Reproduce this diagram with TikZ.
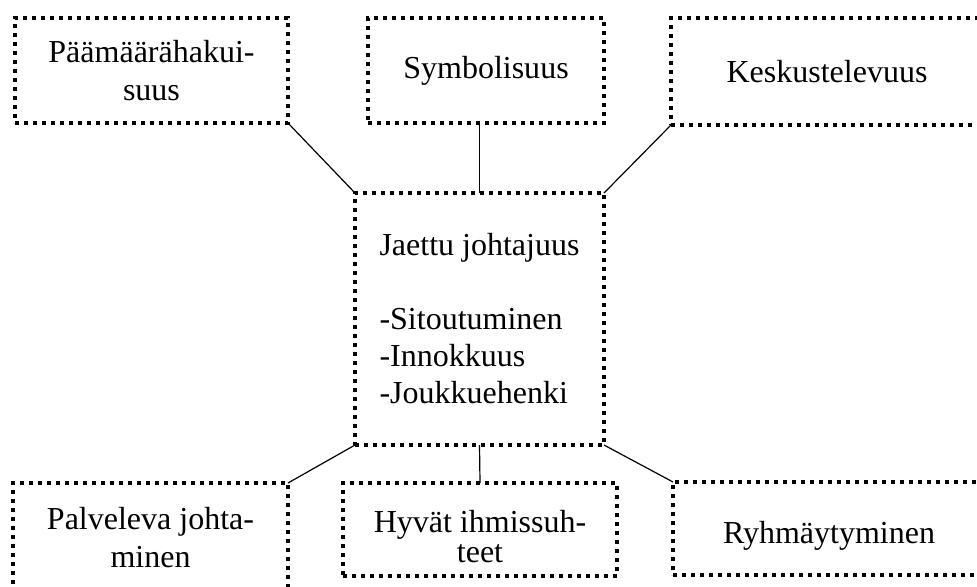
\documentclass[tikz,border=0pt]{standalone}
\usepackage{fontspec}
\setmainfont{Liberation Serif}
\begin{document}
\begin{tikzpicture}[x=0.5pt,y=-0.5pt,
  dotbox/.style={draw, line width=2pt, dash pattern=on 2pt off 2.5pt,
    rectangle, inner sep=0pt, outer sep=0pt, align=center,
    font=\fontsize{16}{19}\selectfont},
  conn/.style={line width=0.6pt}]
\useasboundingbox (0,0) rectangle (977,586);
\begin{scope}
\clip (0,0) rectangle (977,586);
\node[dotbox, minimum width=136.5pt, minimum height=52.5pt] (pm) at (151.5,70.5) {Päämäärähakui-\\suus};
\node[dotbox, minimum width=118pt, minimum height=52.5pt] (sy) at (486,70.5) {Symbolisuus};
\node[dotbox, minimum width=156pt, minimum height=53.5pt] (ke) at (827,71.5) {Keskustelevuus};
\node[dotbox, minimum width=124.5pt, minimum height=126pt, align=left, font=\fontsize{16}{18.5}\selectfont] (jj) at (479.5,319) {Jaettu johtajuus\\[18.5pt]-Sitoutuminen\\-Innokkuus\\-Joukkuehenki};
\node[dotbox, minimum width=137.5pt, minimum height=54.5pt] (pa) at (150.5,537.5) {Palveleva johta-\\minen};
\node[dotbox, minimum width=137pt, minimum height=46.5pt,
  label={[font=\fontsize{16}{15}\selectfont, align=center, yshift=-3.75pt]center:Hyvät ihmissuh-\\teet}] (hy) at (480,529.5) {};
\node[dotbox, minimum width=156pt, minimum height=46.5pt,
  label={[font=\fontsize{16}{19}\selectfont, yshift=-3.75pt]center:Ryhmäytyminen}] (ry) at (829,528.5) {};
\draw[conn] (pm.south east) -- (jj.north west);
\draw[conn] (sy.south -| jj.north) -- (jj.north);
\draw[conn] (ke.south west) -- (jj.north east);
\draw[conn] (jj.south west) -- (pa.north east);
\draw[conn] (jj.south) -- (hy.north);
\draw[conn] (jj.south east) -- (ry.north west);
\end{scope}
\end{tikzpicture}
\end{document}
